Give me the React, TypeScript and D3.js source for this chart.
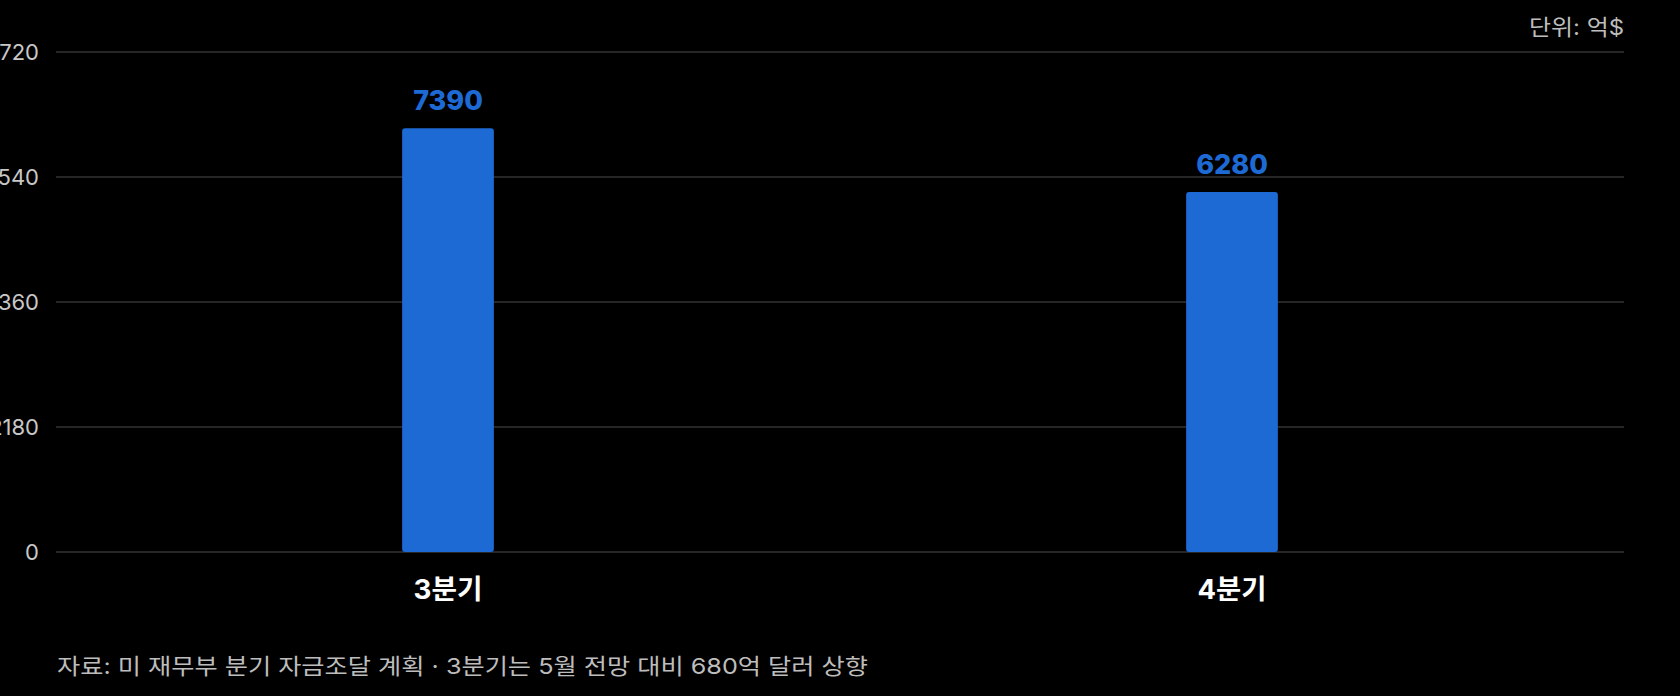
import React, { useEffect, useRef } from 'react';
import * as d3 from 'd3';

const quarters = ['3분기', '4분기'];
const borrowing = [7390, 6280];
const yTicks = [0, 2180, 4360, 6540, 8720];
const unitLabel = '단위: 억$';
const sourceNote = '자료: 미 재무부 분기 자금조달 계획 · 3분기는 5월 전망 대비 680억 달러 상향';

const FONT = 'Inter, "Noto Sans CJK KR", "Noto Sans", sans-serif';

export default function App() {
  const svgRef = useRef<SVGSVGElement | null>(null);

  useEffect(() => {
    document.body.style.margin = '0';
    document.body.style.background = '#000';

    const width = 1680;
    const height = 696;
    const margin = { top: 52, right: 56, bottom: 144, left: 56 };

    const svg = d3.select(svgRef.current)
      .attr('width', width)
      .attr('height', height)
      .style('background', '#000');

    svg.selectAll('*').remove();

    const data = quarters.map((q, i) => ({ q, v: borrowing[i] }));

    const x = d3.scaleBand()
      .domain(quarters)
      .range([margin.left, width - margin.right])
      .paddingInner(0.883)
      .paddingOuter(0.4415);

    const y = d3.scaleLinear()
      .domain([0, 8720])
      .range([height - margin.bottom, margin.top]);

    // grid lines
    svg.append('g')
      .selectAll('line')
      .data(yTicks)
      .join('line')
      .attr('x1', margin.left)
      .attr('x2', width - margin.right)
      .attr('y1', d => y(d))
      .attr('y2', d => y(d))
      .attr('stroke', '#333')
      .attr('stroke-width', 1.5);

    // y labels - the leading digit runs off the left edge, as in the original
    svg.append('g')
      .selectAll('text')
      .data(yTicks)
      .join('text')
      .attr('x', 39)
      .attr('y', d => y(d))
      .attr('dy', '0.36em')
      .attr('text-anchor', 'end')
      .style('font-family', FONT)
      .style('font-size', '22px')
      .style('fill', '#c8c8c8')
      .text(d => String(d));

    svg.append('g')
      .selectAll('rect')
      .data(data)
      .join('rect')
      .attr('x', d => x(d.q)!)
      .attr('y', d => y(d.v))
      .attr('width', x.bandwidth())
      .attr('height', d => y(0) - y(d.v))
      .attr('rx', 3)
      .attr('fill', '#1e6ad5');

    svg.append('g')
      .selectAll('text')
      .data(data)
      .join('text')
      .attr('x', d => x(d.q)! + x.bandwidth() / 2)
      .attr('y', d => y(d.v) - 18)
      .attr('text-anchor', 'middle')
      .style('font-family', FONT)
      .style('font-size', '27px')
      .style('font-weight', 800)
      .style('fill', '#1e6ad5')
      .text(d => String(d.v));

    svg.append('g')
      .selectAll('text')
      .data(quarters)
      .join('text')
      .attr('x', d => x(d)! + x.bandwidth() / 2)
      .attr('y', 599)
      .attr('text-anchor', 'middle')
      .attr('textLength', 69)
      .attr('lengthAdjust', 'spacingAndGlyphs')
      .style('font-family', FONT)
      .style('font-size', '27px')
      .style('font-weight', 700)
      .style('fill', '#fff')
      .text(d => d);

    svg.append('text')
      .attr('x', width - margin.right)
      .attr('y', 35)
      .attr('text-anchor', 'end')
      .attr('textLength', 95)
      .attr('lengthAdjust', 'spacingAndGlyphs')
      .style('font-family', FONT)
      .style('font-size', '22px')
      .style('fill', '#bdbdbd')
      .text(unitLabel);

    svg.append('text')
      .attr('x', 57)
      .attr('y', 674)
      .attr('textLength', 811)
      .attr('lengthAdjust', 'spacingAndGlyphs')
      .style('font-family', FONT)
      .style('font-size', '22px')
      .style('fill', '#bdbdbd')
      .text(sourceNote);
  }, []);

  return <svg ref={svgRef} style={{ display: 'block' }}></svg>;
}
